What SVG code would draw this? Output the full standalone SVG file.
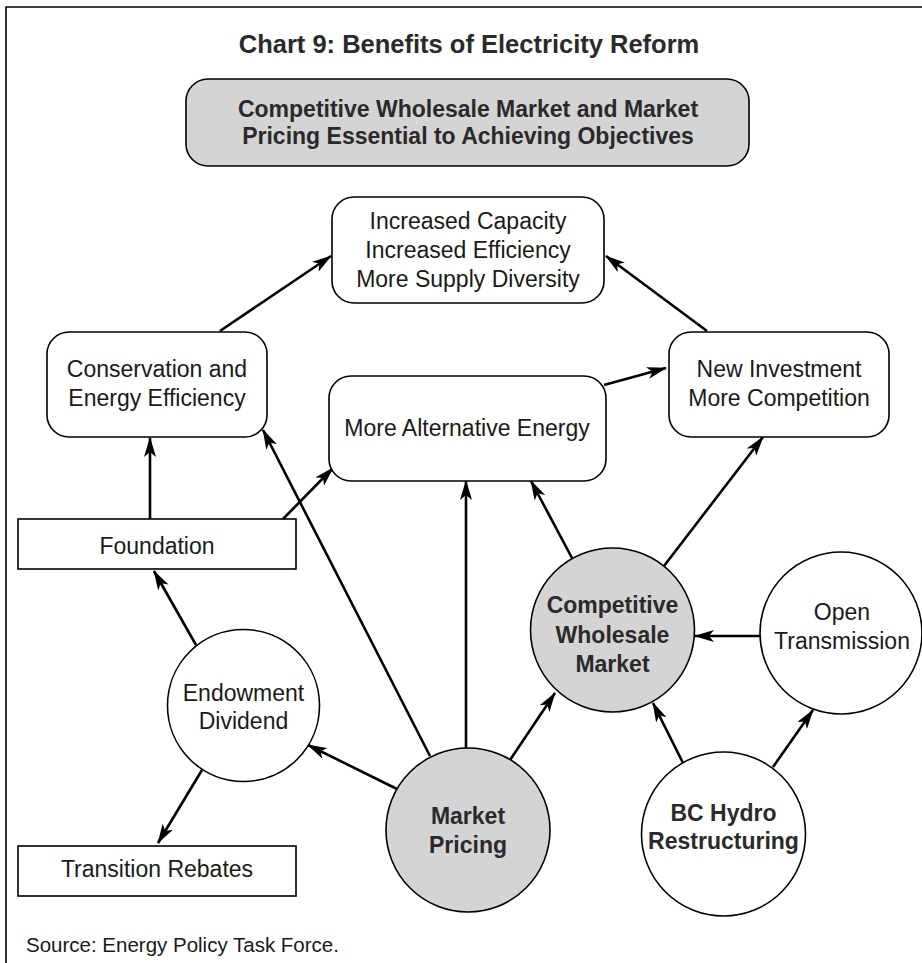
<svg xmlns="http://www.w3.org/2000/svg" width="922" height="963" viewBox="0 0 922 963">
<defs>
<style>
.t{font-family:"Liberation Sans",Arial,sans-serif;fill:#1a1a1a;text-anchor:middle}
.r{font-size:23px}
.b{font-size:23px;font-weight:bold;fill:#2a2a2a}
.box{fill:#fff;stroke:#000;stroke-width:1.6}
.gray{fill:#d4d4d4;stroke:#000;stroke-width:1.6}
.c line{stroke:#000;stroke-width:2.6;marker-end:url(#ah)}
</style>
<marker id="ah" markerUnits="userSpaceOnUse" viewBox="0 0 20 12" refX="19" refY="6" markerWidth="20" markerHeight="12" orient="auto">
<path d="M0,0 L20,6 L0,12 L5,6 Z" fill="#000"/>
</marker>
</defs>
<rect width="922" height="963" fill="#fff"/>
<path d="M6,963 V7 H922" fill="none" stroke="#000" stroke-width="1.6"/>
<text class="t" x="469" y="53" style="font-size:25.5px;font-weight:bold;fill:#2a2a2a">Chart 9: Benefits of Electricity Reform</text>
<g id="header">
<rect class="gray" x="186" y="79" width="563" height="87" rx="22"/>
<text class="t b" x="468" y="117">Competitive Wholesale Market and Market</text>
<text class="t b" x="468" y="144">Pricing Essential to Achieving Objectives</text>
</g>
<g class="c" id="connectors">
<line x1="220" y1="331" x2="331" y2="256"/>
<line x1="707" y1="331" x2="606" y2="256"/>
<line x1="604" y1="385" x2="666" y2="368"/>
<line x1="150" y1="519" x2="150" y2="438"/>
<line x1="283" y1="519" x2="333" y2="468"/>
<line x1="430" y1="756" x2="263" y2="430"/>
<line x1="466" y1="748" x2="466" y2="481"/>
<line x1="572" y1="558" x2="531" y2="481"/>
<line x1="664" y1="566" x2="763" y2="437"/>
<line x1="760" y1="636" x2="695" y2="636"/>
<line x1="683" y1="763" x2="653" y2="703"/>
<line x1="773" y1="767" x2="813" y2="710"/>
<line x1="510" y1="760" x2="555" y2="693"/>
<line x1="397" y1="789" x2="308" y2="745"/>
<line x1="196" y1="645" x2="154" y2="571"/>
<line x1="202" y1="770" x2="158" y2="843"/>
</g>
<g id="increased">
<rect class="box" x="332" y="197" width="272" height="106" rx="22"/>
<text class="t r" x="468" y="229">Increased Capacity</text>
<text class="t r" x="468" y="258">Increased Efficiency</text>
<text class="t r" x="468" y="287">More Supply Diversity</text>
</g>
<g id="conservation">
<rect class="box" x="47" y="332" width="220" height="105" rx="22"/>
<text class="t r" x="157" y="377">Conservation and</text>
<text class="t r" x="157" y="406">Energy Efficiency</text>
</g>
<g id="newinvestment">
<rect class="box" x="669" y="332" width="220" height="105" rx="22"/>
<text class="t r" x="779" y="377">New Investment</text>
<text class="t r" x="779" y="406">More Competition</text>
</g>
<g id="altenergy">
<rect class="box" x="329" y="376" width="277" height="105" rx="22"/>
<text class="t r" x="467" y="436">More Alternative Energy</text>
</g>
<g id="foundation">
<rect class="box" x="18" y="519" width="278" height="50"/>
<text class="t r" x="157" y="554">Foundation</text>
</g>
<g id="transition">
<rect class="box" x="18" y="846" width="278" height="50"/>
<text class="t r" x="157" y="877">Transition Rebates</text>
</g>
<g id="endowment">
<circle class="box" cx="243.5" cy="705.5" r="76"/>
<text class="t r" x="243.5" y="701">Endowment</text>
<text class="t r" x="243.5" y="729">Dividend</text>
</g>
<g id="competitive">
<circle class="gray" cx="612.5" cy="630" r="82"/>
<text class="t b" x="612.5" y="613">Competitive</text>
<text class="t b" x="612.5" y="643">Wholesale</text>
<text class="t b" x="612.5" y="672">Market</text>
</g>
<g id="open">
<circle class="box" cx="841" cy="633" r="81"/>
<text class="t r" x="842" y="620">Open</text>
<text class="t r" x="842" y="649">Transmission</text>
</g>
<g id="market">
<circle class="gray" cx="468" cy="830" r="82"/>
<text class="t b" x="468" y="824">Market</text>
<text class="t b" x="468" y="853">Pricing</text>
</g>
<g id="bchydro">
<circle class="box" cx="723.5" cy="834" r="82"/>
<text class="t b" x="723.5" y="821">BC Hydro</text>
<text class="t b" x="723.5" y="849">Restructuring</text>
</g>
<text x="26" y="952" style="font-family:'Liberation Sans',Arial,sans-serif;font-size:20.5px;fill:#1a1a1a">Source: Energy Policy Task Force.</text>
</svg>
